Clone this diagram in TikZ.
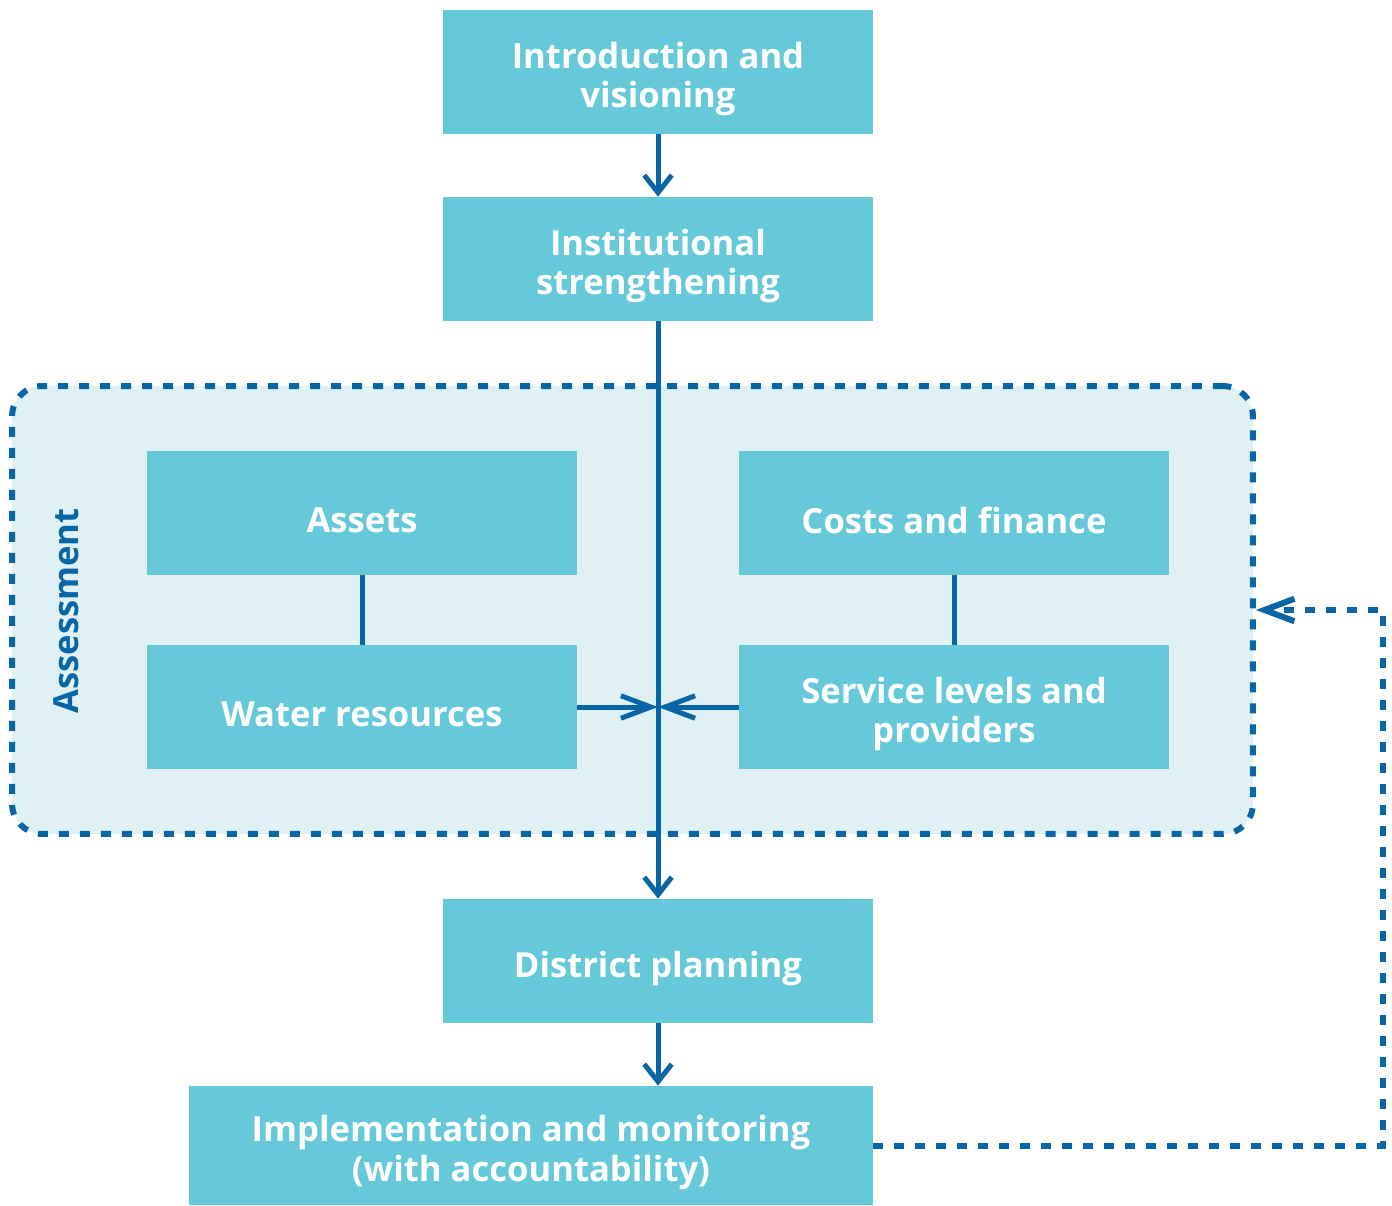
\documentclass[tikz,border=0pt]{standalone}
\usepackage{fontspec}
\setmainfont{Open Sans}
\usetikzlibrary{arrows.meta}
\definecolor{boxcyan}{HTML}{65C9D9}
\definecolor{paleblue}{HTML}{E0F1F6}
\definecolor{darkblue}{HTML}{0866A6}

\begin{document}
\begin{tikzpicture}[x=0.02cm, y=-0.02cm,
    stepbox/.style={fill=boxcyan, minimum width=8.6cm, minimum height=2.48cm, inner sep=0pt},
    steptext/.style={text=white, font=\fontsize{19.7}{22.7}\selectfont\bfseries, align=center, yshift=-0.14cm},
    link/.style={darkblue, line width=0.1cm},
    flow/.style={-{Straight Barb[length=0.35cm,width=0.55cm]}},
    side/.style={-{Straight Barb[length=0.6cm,width=0.45cm]}},
    dots/.style={draw=darkblue, line width=0.12cm, dash pattern=on 0.2cm off 0.22cm}]
    \useasboundingbox (0,0) rectangle (1392,1206);

    \node[dots, fill=paleblue, rounded corners=0.6cm, minimum width=24.82cm, minimum height=8.96cm] (as) at (632.5,610) {};
    \node[rotate=90, text=darkblue, font=\fontsize{19.7}{22.7}\selectfont\bfseries] (lab) at (66,611) {Assessment};

    \node[stepbox, label={[steptext]center:{Introduction and\\visioning}}] (n1) at (658,72) {};
    \node[stepbox, label={[steptext]center:{Institutional\\strengthening}}] (n2) at (658,259) {};
    \node[stepbox, label={[steptext]center:{Assets}}] (n3) at (362,513) {};
    \node[stepbox, label={[steptext]center:{Water resources}}] (n4) at (362,707) {};
    \node[stepbox, label={[steptext]center:{Costs and finance}}] (n5) at (954,513) {};
    \node[stepbox, label={[steptext]center:{Service levels and\\providers}}] (n6) at (954,707) {};
    \node[stepbox, label={[steptext]center:{District planning}}] (n7) at (658,961) {};
    \node[stepbox, minimum width=13.68cm, minimum height=2.38cm,
      label={[steptext]center:{Implementation and monitoring\\(with accountability)}}] (n8) at (531,1145.5) {};
    \coordinate (c) at (658,707);
    \coordinate (f) at (1383,610);

    \draw[link, flow] (n1) -- (n2);
    \draw[link, flow] (n2) -- (n7);
    \draw[link] (n3) -- (n4);
    \draw[link] (n5) -- (n6);
    \draw[link, side] (n4) -- (c);
    \draw[link, side] (n6) -- (c);
    \draw[link, flow] (n7.south) -- (n7.south |- n8.north);
    \draw[dots, side] (n8.east) -| (f) -- (as.east |- f);
\end{tikzpicture}
\end{document}
